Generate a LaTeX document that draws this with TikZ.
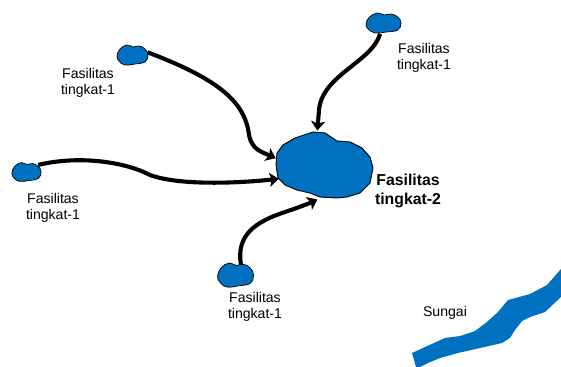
\documentclass[tikz,border=0pt]{standalone}
\usepackage{fontspec}
\setmainfont{Liberation Sans}
\usetikzlibrary{calc}
\usetikzlibrary{shapes.geometric}
\usetikzlibrary{arrows.meta,positioning}

\definecolor{fasblue}{RGB}{0,112,192}

\tikzset{
  spot/.style={ellipse,inner sep=0pt,minimum width=0.95cm,minimum height=0.65cm},
  puddle/.pic={\draw[fill=fasblue,line width=0.6pt] plot[smooth cycle,tension=0.7] coordinates {(-15,1) (-12,-6) (-5,-10) (1,-8) (7,-9) (13,-6) (16,0) (13,7) (3,9) (-7,10) (-13,6)};},
  feed/.style={line width=3.5pt,arrows={-Stealth[length=8pt,width=12pt,inset=2pt]}},
  lbl/.style={align=center,font=\fontsize{12}{14}\selectfont},
  biglbl/.style={align=center,font=\fontsize{13.5}{15.5}\selectfont\bfseries}
}

\begin{document}
\begin{tikzpicture}[x=0.03cm,y=-0.03cm]

\coordinate (LEFTCORNER) at (0,0);
\useasboundingbox (LEFTCORNER) rectangle (561,367);

%%%%%%%%%%%%%%%%%%%
% draw river
\fill[fasblue] (412,353) -- (425,347) -- (445,338) -- (460,336) -- (475,331) -- (487,322)
  -- (498,312) -- (508,300) -- (530,294) -- (547,285) -- (561,269)
  -- (561,297) -- (545,312) -- (530,317) -- (522,321) -- (515,330) -- (510,338)
  -- (502,343) -- (480,348) -- (458,353) -- (440,358) -- (428,363) -- (420,367) -- (416,367) -- cycle;
\node[lbl] at (445,313) (SUNGAI) {Sungai};

%%%%%%%%%%%%%%%%%%%
% draw level-2 facility
\node[ellipse,inner sep=0pt,minimum width=2.94cm,minimum height=2.07cm] at (324,165) (HUB) {};
\draw[fill=fasblue,line width=0.8pt,line join=round] (277,153) -- (283,145) -- (295,138) -- (313,132)
  -- (325,133) -- (337,141) -- (350,142) -- (362,148) -- (370,157) -- (373,168) -- (370,183)
  -- (360,193) -- (347,197) -- (337,198) -- (320,197) -- (310,193) -- (297,190) -- (285,185)
  -- (278,178) -- (276,165) -- cycle;
\node[biglbl] at (408,191) (HUBLBL) {Fasilitas\\tingkat-2};

%%%%%%%%%%%%%%%%%%%
% draw level-1 facilities
\node[spot] at (132,55) (TL) {};
\pic at (TL) {puddle};
\node[lbl] at (88,83) (TLLBL) {Fasilitas\\tingkat-1};

\node[spot] at (383,23) (TR) {};
\pic[xscale=1.13] at (TR) {puddle};
\node[lbl] at (424,58) (TRLBL) {Fasilitas\\tingkat-1};

\node[spot] at (26,172) (LT) {};
\pic[scale=0.94] at (LT) {puddle};
\node[lbl] at (53,208) (LTLBL) {Fasilitas\\tingkat-1};

\node[spot] at (235,275) (BT) {};
\pic[xscale=1.16,yscale=1.2] at (BT) {puddle};
\node[lbl] at (255,307) (BTLBL) {Fasilitas\\tingkat-1};

% draw flows
\draw[feed] (TL.10) .. controls (215,78) and (245,100) .. (249,135)
  .. controls (252,150) and (262,152) .. (HUB.172);
\draw[feed] (TR.-105) .. controls (372,62) and (322,75) .. (319,110) -- (HUB.101);
\draw[feed] (LT.30) .. controls (80,155) and (125,162) .. (150,175)
  .. controls (180,186) and (240,183) .. (HUB.197);
\draw[feed] (BT.60) .. controls (236,235) and (255,222) .. (285,212)
  .. controls (300,207) and (310,203) .. (HUB.259);

\end{tikzpicture}
\end{document}
